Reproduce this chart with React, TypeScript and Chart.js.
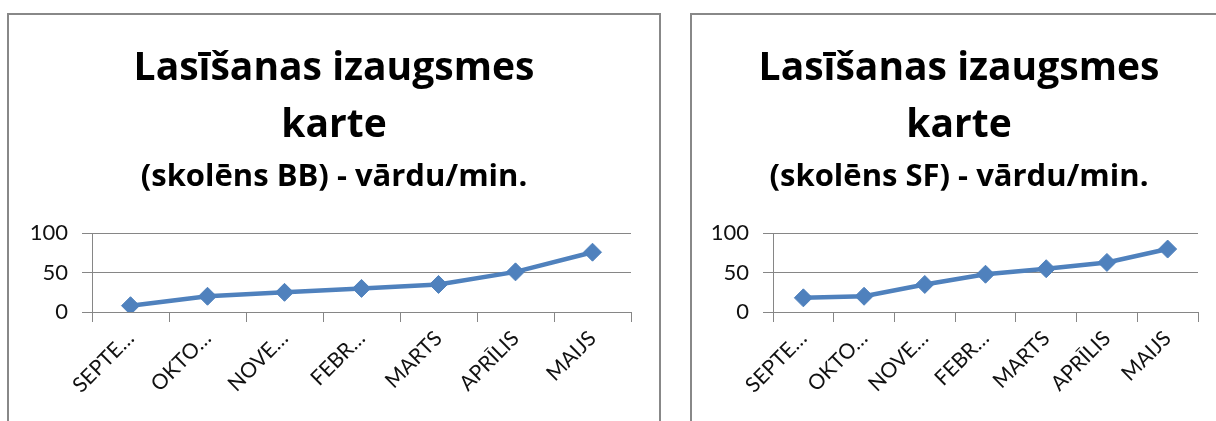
import React, { useEffect, useRef } from 'react';
import { Chart, registerables } from 'chart.js';

Chart.register(...registerables);

const categories = ['SEPTE…', 'OKTO…', 'NOVE…', 'FEBR…', 'MARTS', 'APRĪLIS', 'MAIJS'];
const valuesBB = [8, 20, 25, 30, 35, 51, 76];
const valuesSF = [18, 20, 35, 48, 55, 63, 80];
const yTicks = [0, 50, 100];
const titleLines = ['Lasīšanas izaugsmes', 'karte'];
const subtitleBB = '(skolēns BB) - vārdu/min.';
const subtitleSF = '(skolēns SF) - vārdu/min.';

const LINE_COLOR = '#4F81BD';
const GRID_COLOR = '#868686';
const TITLE_FONT = '"Open Sans", Lato, sans-serif';
const TICK_FONT = 'Lato, "Open Sans", sans-serif';

type Props = {
  values: number[];
  subtitle: string;
  width: number;
  height: number;
  yAxisWidth: number;
  rightPad: number;
  plotBottom: number;
};

function LineChart({ values, subtitle, width, height, yAxisWidth, rightPad, plotBottom }: Props) {
  const ref = useRef<HTMLCanvasElement | null>(null);
  useEffect(() => {
    if (!ref.current) return;
    const chart = new Chart(ref.current, {
      type: 'line',
      data: {
        labels: categories,
        datasets: [
          {
            data: values,
            borderColor: LINE_COLOR,
            backgroundColor: LINE_COLOR,
            borderWidth: 4.5,
            pointStyle: 'rectRot',
            pointRadius: 9,
            pointBorderWidth: 1,
            pointBackgroundColor: LINE_COLOR,
            pointBorderColor: LINE_COLOR,
            tension: 0,
          },
        ],
      },
      options: {
        animation: false,
        responsive: false,
        devicePixelRatio: 1,
        layout: { padding: 0 },
        plugins: {
          legend: { display: false },
          tooltip: { enabled: false },
          title: {
            display: true,
            text: titleLines,
            color: '#000',
            font: { family: TITLE_FONT, size: 39, weight: 'bold', lineHeight: 1.47 },
            padding: { top: 25, bottom: 0 },
          },
          subtitle: {
            display: true,
            text: subtitle,
            color: '#000',
            font: { family: TITLE_FONT, size: 31, weight: 'bold', lineHeight: 1.15 },
            padding: { top: 5, bottom: 38 },
          },
        },
        scales: {
          x: {
            offset: true,
            grid: {
              display: true,
              drawOnChartArea: false,
              offset: true,
              color: GRID_COLOR,
              tickLength: 10,
            },
            border: { display: false },
            ticks: {
              minRotation: 45,
              maxRotation: 45,
              autoSkip: false,
              color: '#111',
              padding: 4,
              font: { family: TICK_FONT, size: 21 },
            },
            afterFit: (s: any) => {
              s.height = height - plotBottom;
            },
          },
          y: {
            min: 0,
            max: 100,
            afterBuildTicks: (s: any) => {
              s.ticks = yTicks.map((v) => ({ value: v }));
            },
            grid: { color: GRID_COLOR, tickLength: 10 },
            border: { display: true, color: GRID_COLOR },
            ticks: {
              color: '#111',
              padding: 14,
              font: { family: TICK_FONT, size: 22 },
            },
            afterFit: (s: any) => {
              s.width = yAxisWidth;
            },
          },
          spacer: {
            type: 'linear',
            position: 'right',
            display: true,
            grid: { display: false, drawOnChartArea: false },
            border: { display: false },
            ticks: { display: false },
            afterFit: (s: any) => {
              s.width = rightPad;
            },
          },
        },
      },
    });
    return () => chart.destroy();
  }, [values, subtitle, width, height, yAxisWidth, rightPad, plotBottom]);
  return <canvas ref={ref} width={width} height={height} style={{ width, height, display: 'block' }} />;
}

export default function App() {
  return (
    <div
      style={{
        position: 'absolute',
        left: 0,
        top: 0,
        width: 1216,
        height: 421,
        overflow: 'hidden',
        background: '#fff',
      }}
    >
      <div
        style={{
          position: 'absolute',
          left: 7,
          top: 13,
          width: 650,
          height: 430,
          border: '2px solid #888',
          background: '#fff',
        }}
      >
        <LineChart
          values={valuesBB}
          subtitle={subtitleBB}
          width={650}
          height={430}
          yAxisWidth={83}
          rightPad={28}
          plotBottom={297}
        />
      </div>
      <div
        style={{
          position: 'absolute',
          left: 690,
          top: 13,
          width: 534,
          height: 430,
          border: '2px solid #888',
          background: '#fff',
        }}
      >
        <LineChart
          values={valuesSF}
          subtitle={subtitleSF}
          width={534}
          height={430}
          yAxisWidth={81}
          rightPad={28}
          plotBottom={297}
        />
      </div>
    </div>
  );
}
